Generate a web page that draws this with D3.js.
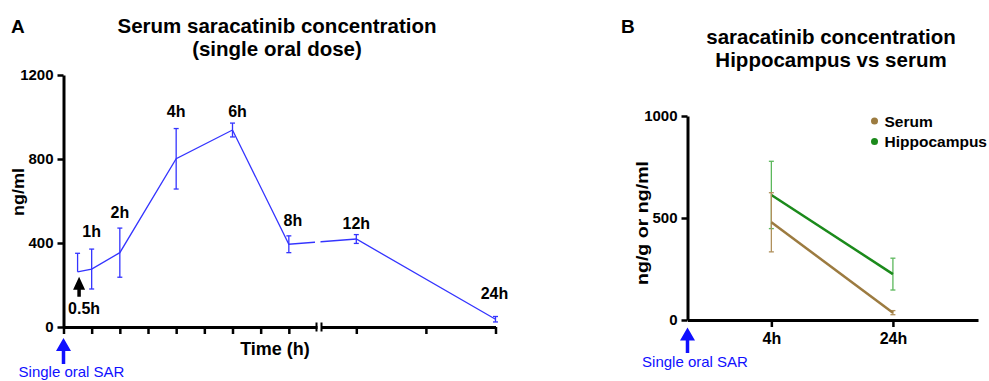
<!DOCTYPE html>
<html>
<head>
<meta charset="utf-8">
<script src="https://cdn.jsdelivr.net/npm/d3@7"></script>
<style>
  body { margin: 0; background: #fff; }
  text { font-family: "Liberation Sans", Arial, sans-serif; }
</style>
</head>
<body>
<svg id="chart" width="989" height="381"></svg>
<script>
// panel A: serum after a single oral dose
const hoursA = [0.5, 1, 2, 4, 6, 8, 12, 24];
const labelsA = ['0.5h', '1h', '2h', '4h', '6h', '8h', '12h', '24h'];
const serumA = [263, 276, 354, 801, 938, 394, 419, 37];
const semUpA = [88, 95, 117, 144, 33, 40, 21, 13];
const semDownA = [0, 95, 117, 144, 33, 40, 21, 13];
const labelLevelA = [60, 430, 517, 998, 998, 480, 469, 135]; // ng/ml level of each time label
const ticksLowA = [0, 1, 2, 3, 4, 5, 6, 7, 8];
const ticksHighA = [12, 18, 24];
const yTicksA = [0, 400, 800, 1200];

// panel B: hippocampus vs serum
const groupsB = ['4h', '24h'];
const hoursB = [4, 24];
const serumB = [479, 36];
const serumErrB = [145, 10];
const hippoB = [613, 225];
const hippoErrB = [165, 78];
const yTicksB = [0, 500, 1000];

const svg = d3.select('#chart');
const blue = '#3434ff';
const arrowBlue = '#1010ff';

function styleAxis(g, fontSize) {
    g.select('.domain').attr('stroke', '#000').attr('stroke-width', 3);
    g.selectAll('.tick line').attr('stroke', '#000').attr('stroke-width', 2.5);
    g.selectAll('.tick text').attr('fill', '#000').attr('font-weight', 'bold')
        .attr('font-size', fontSize).attr('font-family', '"Liberation Sans", Arial, sans-serif');
}

function arrow(x, yTip, yTail, headW, headH, shaftW, color) {
    svg.append('path')
        .attr('d', `M${x},${yTip} L${x + headW / 2},${yTip + headH} L${x + shaftW / 2},${yTip + headH}
            L${x + shaftW / 2},${yTail} L${x - shaftW / 2},${yTail} L${x - shaftW / 2},${yTip + headH}
            L${x - headW / 2},${yTip + headH} Z`)
        .attr('fill', color);
}

function errorBar(g, x, yTop, yBottom, showBottom, color, width) {
    g.append('line').attr('x1', x).attr('x2', x).attr('y1', yTop).attr('y2', yBottom)
        .attr('stroke', color).attr('stroke-width', width);
    g.append('line').attr('x1', x - 2.5).attr('x2', x + 2.5).attr('y1', yTop).attr('y2', yTop)
        .attr('stroke', color).attr('stroke-width', width);
    if (showBottom) {
        g.append('line').attr('x1', x - 2.5).attr('x2', x + 2.5).attr('y1', yBottom).attr('y2', yBottom)
            .attr('stroke', color).attr('stroke-width', width);
    }
}

// ---------- panel A ----------
const yA = d3.scaleLinear().domain([0, 1200]).range([327, 75]);
const xLow = d3.scaleLinear().domain([0, 9]).range([63.5, 317]);
const xHigh = d3.scaleLinear().domain([9, 24]).range([321.5, 495.5]);
const xA = t => t <= 9 ? xLow(t) : xHigh(t);

const dataA = hoursA.map((t, i) => ({t, v: serumA[i], up: semUpA[i], down: semDownA[i], label: labelsA[i], lv: labelLevelA[i]}));

svg.append('path')
    .datum(dataA)
    .attr('d', d3.line().x(d => xA(d.t)).y(d => yA(d.v)))
    .attr('fill', 'none')
    .attr('stroke', blue)
    .attr('stroke-width', 1.3);
// gap in the line at the axis break
svg.append('rect')
    .attr('x', xLow(9) - 2).attr('width', xHigh(9) - xLow(9) + 1)
    .attr('y', 150).attr('height', 160).attr('fill', '#fff');

const barsA = svg.append('g');
dataA.forEach(d => errorBar(barsA, xA(d.t), yA(d.v + d.up), yA(d.v - d.down), d.down > 0, blue, 1.3));

const labelDx = [6.5, 0, 0, 0, 5, 4, 0, -1];
svg.append('g').selectAll('text')
    .data(dataA)
    .join('text')
    .attr('x', (d, i) => xA(d.t) + labelDx[i])
    .attr('y', d => yA(d.lv))
    .attr('text-anchor', 'middle')
    .attr('font-weight', 'bold')
    .attr('font-size', 16)
    .text(d => d.label);

const yAxisA = svg.append('g').attr('transform', 'translate(63.5,0)')
    .call(d3.axisLeft(yA).tickValues(yTicksA).tickSize(6).tickSizeOuter(0).tickPadding(4).tickFormat(d3.format('d')));
styleAxis(yAxisA, 15);

const xAxisLow = svg.append('g').attr('transform', 'translate(0,327)')
    .call(d3.axisBottom(xLow).tickValues(ticksLowA).tickSize(7).tickSizeOuter(0).tickFormat(''));
styleAxis(xAxisLow, 15);
const xAxisHigh = svg.append('g').attr('transform', 'translate(0,327)')
    .call(d3.axisBottom(xHigh).tickValues(ticksHighA).tickSize(7).tickSizeOuter(0).tickFormat(''));
styleAxis(xAxisHigh, 15);
[xLow(9) - 0.5, xHigh(9)].forEach(x => {
    svg.append('line').attr('x1', x).attr('x2', x).attr('y1', 322.5).attr('y2', 331.5)
        .attr('stroke', '#000').attr('stroke-width', 2);
});

// black arrow marking the first sample
arrow(xA(hoursA[0]) + 1.5, yA(serumA[0]) + 5, yA(serumA[0]) + 25, 12, 13, 3.5, '#000');

svg.append('text').attr('x', 275).attr('y', 355).attr('text-anchor', 'middle')
    .attr('font-weight', 'bold').attr('font-size', 18).text('Time (h)');
svg.append('text').attr('transform', 'translate(24,192) rotate(-90)').attr('text-anchor', 'middle')
    .attr('font-weight', 'bold').attr('font-size', 17)
    .attr('textLength', 48).attr('lengthAdjust', 'spacingAndGlyphs').text('ng/ml');
svg.append('text').attr('x', 277).attr('y', 32.5).attr('text-anchor', 'middle')
    .attr('font-weight', 'bold').attr('font-size', 20.5).text('Serum saracatinib concentration');
svg.append('text').attr('x', 277).attr('y', 56).attr('text-anchor', 'middle')
    .attr('font-weight', 'bold').attr('font-size', 20.5).text('(single oral dose)');
svg.append('text').attr('x', 11).attr('y', 32.5)
    .attr('font-weight', 'bold').attr('font-size', 19).text('A');

arrow(xLow(0), 338, 364, 15, 13, 3.5, arrowBlue);
svg.append('text').attr('x', 71.5).attr('y', 377).attr('text-anchor', 'middle')
    .attr('font-size', 15).attr('fill', arrowBlue).text('Single oral SAR');

// ---------- panel B ----------
const yB = d3.scaleLinear().domain([0, 1000]).range([320, 116]);
const xB = d3.scaleSqrt().domain([0, 48]).range([687.5, 978]);

const seriesB = [
    {name: 'Hippocampus', color: '#1b8a1b', bar: '#5cb85c', values: hippoB, errs: hippoErrB},
    {name: 'Serum', color: '#9c7b40', bar: '#b0905c', values: serumB, errs: serumErrB}
];

seriesB.forEach(s => {
    const pts = hoursB.map((t, i) => ({t, v: s.values[i], e: s.errs[i]}));
    const g = svg.append('g');
    pts.forEach(p => errorBar(g, xB(p.t), yB(p.v + p.e), yB(p.v - p.e), true, s.bar, 1.3));
    g.append('path')
        .datum(pts)
        .attr('d', d3.line().x(p => xB(p.t)).y(p => yB(p.v)))
        .attr('fill', 'none')
        .attr('stroke', s.color)
        .attr('stroke-width', 2.5);
});

const yAxisB = svg.append('g').attr('transform', 'translate(687.5,0)')
    .call(d3.axisLeft(yB).tickValues(yTicksB).tickSize(6).tickSizeOuter(0).tickPadding(4).tickFormat(d3.format('d')));
styleAxis(yAxisB, 15);
const xAxisB = svg.append('g').attr('transform', 'translate(0,320)')
    .call(d3.axisBottom(xB).tickValues(hoursB).tickSize(7).tickSizeOuter(0).tickPadding(6)
        .tickFormat((d, i) => groupsB[i]));
styleAxis(xAxisB, 16);

const legend = svg.append('g').attr('transform', 'translate(874.5,121)');
['Serum', 'Hippocampus'].forEach((name, i) => {
    const s = seriesB.find(x => x.name === name);
    legend.append('circle').attr('cx', 0).attr('cy', i * 20.5).attr('r', 3.5).attr('fill', s.color);
    legend.append('text').attr('x', 10).attr('y', i * 20.5 + 5.5)
        .attr('font-weight', 'bold').attr('font-size', 15.5).text(name);
});

svg.append('text').attr('transform', 'translate(648,223) rotate(-90)').attr('text-anchor', 'middle')
    .attr('font-weight', 'bold').attr('font-size', 17)
    .attr('textLength', 124).attr('lengthAdjust', 'spacingAndGlyphs').text('ng/g or ng/ml');
svg.append('text').attr('x', 831).attr('y', 43.5).attr('text-anchor', 'middle')
    .attr('font-weight', 'bold').attr('font-size', 20.5).text('saracatinib concentration');
svg.append('text').attr('x', 831).attr('y', 67).attr('text-anchor', 'middle')
    .attr('font-weight', 'bold').attr('font-size', 20.5).text('Hippocampus vs serum');
svg.append('text').attr('x', 621).attr('y', 32.5)
    .attr('font-weight', 'bold').attr('font-size', 19).text('B');

arrow(687.5, 327.5, 353, 15, 13, 3.5, arrowBlue);
svg.append('text').attr('x', 695).attr('y', 366.5).attr('text-anchor', 'middle')
    .attr('font-size', 15).attr('fill', arrowBlue).text('Single oral SAR');
</script>
</body>
</html>
